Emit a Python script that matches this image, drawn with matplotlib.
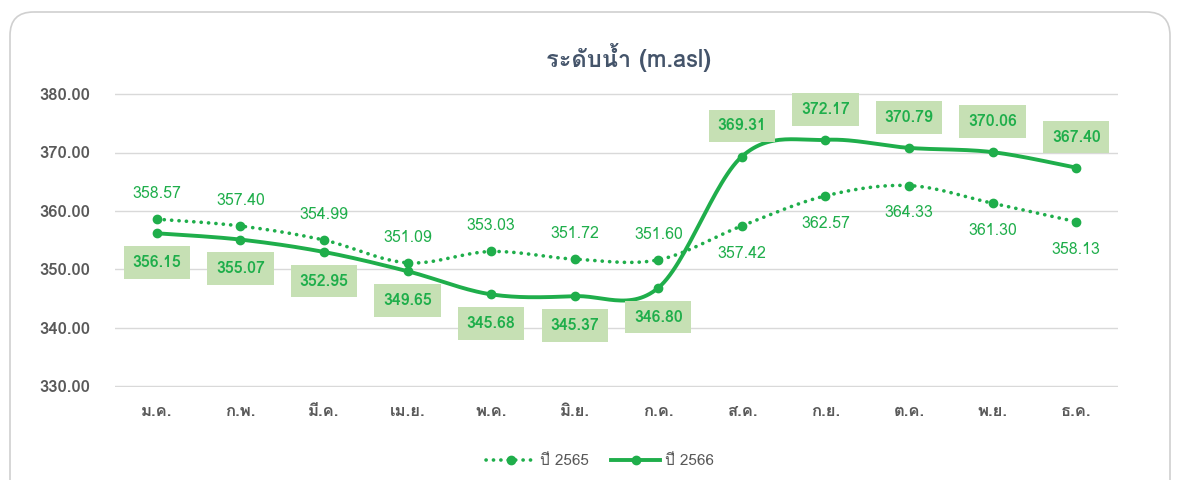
import numpy as np
import matplotlib
matplotlib.use('Agg')
import matplotlib.pyplot as plt
from matplotlib import font_manager
from matplotlib.ft2font import FT2Font
from matplotlib.patches import FancyBboxPatch

months = ['ม.ค.', 'ก.พ.', 'มี.ค.', 'เม.ย.', 'พ.ค.', 'มิ.ย.', 'ก.ค.', 'ส.ค.', 'ก.ย.', 'ต.ค.', 'พ.ย.', 'ธ.ค.']
y2565 = [358.57, 357.40, 354.99, 351.09, 353.03, 351.72, 351.60, 357.42, 362.57, 364.33, 361.30, 358.13]
y2566 = [356.15, 355.07, 352.95, 349.65, 345.68, 345.37, 346.80, 369.31, 372.17, 370.79, 370.06, 367.40]
yticks = [330, 340, 350, 360, 370, 380]

# find a font that has Thai glyphs
thai = None
for f in font_manager.fontManager.ttflist:
    try:
        if 0x0E14 in FT2Font(f.fname).get_charmap():
            thai = f.name
            break
    except Exception:
        pass
fams = ([thai] if thai else []) + ['Liberation Sans', 'DejaVu Sans']
plt.rcParams['font.family'] = fams

green = '#1fae4b'
gray = '#595959'
dots = (0, (0.05, 2.0))


def smooth(x, y, n=30):
    # excel-like bezier smoothing through the points
    x = np.asarray(x, float)
    y = np.asarray(y, float)
    p = np.column_stack([x, y])
    out = []
    for i in range(len(p) - 1):
        p0 = p[i - 1] if i > 0 else p[i]
        p3 = p[i + 2] if i + 2 < len(p) else p[i + 1]
        c1 = p[i] + (p[i + 1] - p0) / 6
        c2 = p[i + 1] - (p3 - p[i]) / 6
        t = np.linspace(0, 1, n)[:, None]
        seg = (1 - t) ** 3 * p[i] + 3 * (1 - t) ** 2 * t * c1 + 3 * (1 - t) * t ** 2 * c2 + t ** 3 * p[i + 1]
        out.append(seg if i == 0 else seg[1:])
    s = np.vstack(out)
    return s[:, 0], s[:, 1]


fig = plt.figure(figsize=(11.78, 4.8), dpi=100)
card = FancyBboxPatch((10 / 1178, -0.05), 1160 / 1178, 1.0 - 12 / 480 + 0.05,
                      boxstyle='round,pad=0,rounding_size=0.02', transform=fig.transFigure,
                      facecolor='white', edgecolor='#d0d0d0', linewidth=1.2, mutation_aspect=2.45,
                      zorder=-5)
fig.patches.append(card)

ax = fig.add_axes([115 / 1178, 1 - 387 / 480, (1118 - 115) / 1178, (387 - 93) / 480])
ax.set_facecolor('none')
x = np.arange(len(months))

sx, sy = smooth(x, y2565)
ax.plot(sx, sy, color=green, lw=2.6, ls=dots, dash_capstyle='round', zorder=3)
ax.plot(x, y2565, 'o', color=green, ms=6, zorder=4)
sx, sy = smooth(x, y2566)
ax.plot(sx, sy, color=green, lw=2.8, zorder=3)
ax.plot(x, y2566, 'o', color=green, ms=6, zorder=4)

for i, v in enumerate(y2565):
    off = 18 if i < 7 else -20
    ax.annotate(f'{v:.2f}', (i, v), xytext=(0, off), textcoords='offset points',
                ha='center', va='center', fontsize=11.5, color=green, zorder=5)

for i, v in enumerate(y2566):
    off = -21 if i < 7 else 22
    ax.annotate(f'{v:.2f}', (i, v), xytext=(0, off), textcoords='offset points',
                ha='center', va='center', fontsize=11.5, fontweight='bold', color=green, zorder=5,
                bbox=dict(boxstyle='square,pad=0.55', facecolor='#c6e0b4', edgecolor='none'))

ax.set_xlim(-0.5, len(months) - 0.5)
ax.set_ylim(329.8, 380.2)
ax.set_yticks(yticks)
ax.set_yticklabels([f'{t:.2f}' for t in yticks], fontsize=12, fontweight='bold', color=gray)
ax.set_xticks(x)
ax.set_xticklabels(months, fontsize=12, fontweight='bold', color=gray)
ax.tick_params(axis='x', length=0, pad=12)
ax.tick_params(axis='y', length=0, pad=18)
ax.grid(axis='y', color='#d9d9d9', lw=1)
ax.set_axisbelow(True)
for s in ax.spines.values():
    s.set_visible(False)

fig.text(628 / 1178, 1 - 57 / 480, 'ระดับน้ำ (m.asl)', ha='center', va='center',
         fontsize=17, fontweight='bold', color='#44546a')

h1, = ax.plot([], [], color=green, lw=2.6, ls=dots, dash_capstyle='round', marker='o', ms=6)
h2, = ax.plot([], [], color=green, lw=2.8, marker='o', ms=6)
fig.legend([h1, h2], ['ปี 2565', 'ปี 2566'], loc='center', bbox_to_anchor=(600 / 1178, 1 - 461 / 480),
           ncol=2, frameon=False, fontsize=11, handlelength=3.2, columnspacing=1.5,
           handletextpad=0.3, labelcolor=gray)

fig.savefig('out.png', dpi=100)
